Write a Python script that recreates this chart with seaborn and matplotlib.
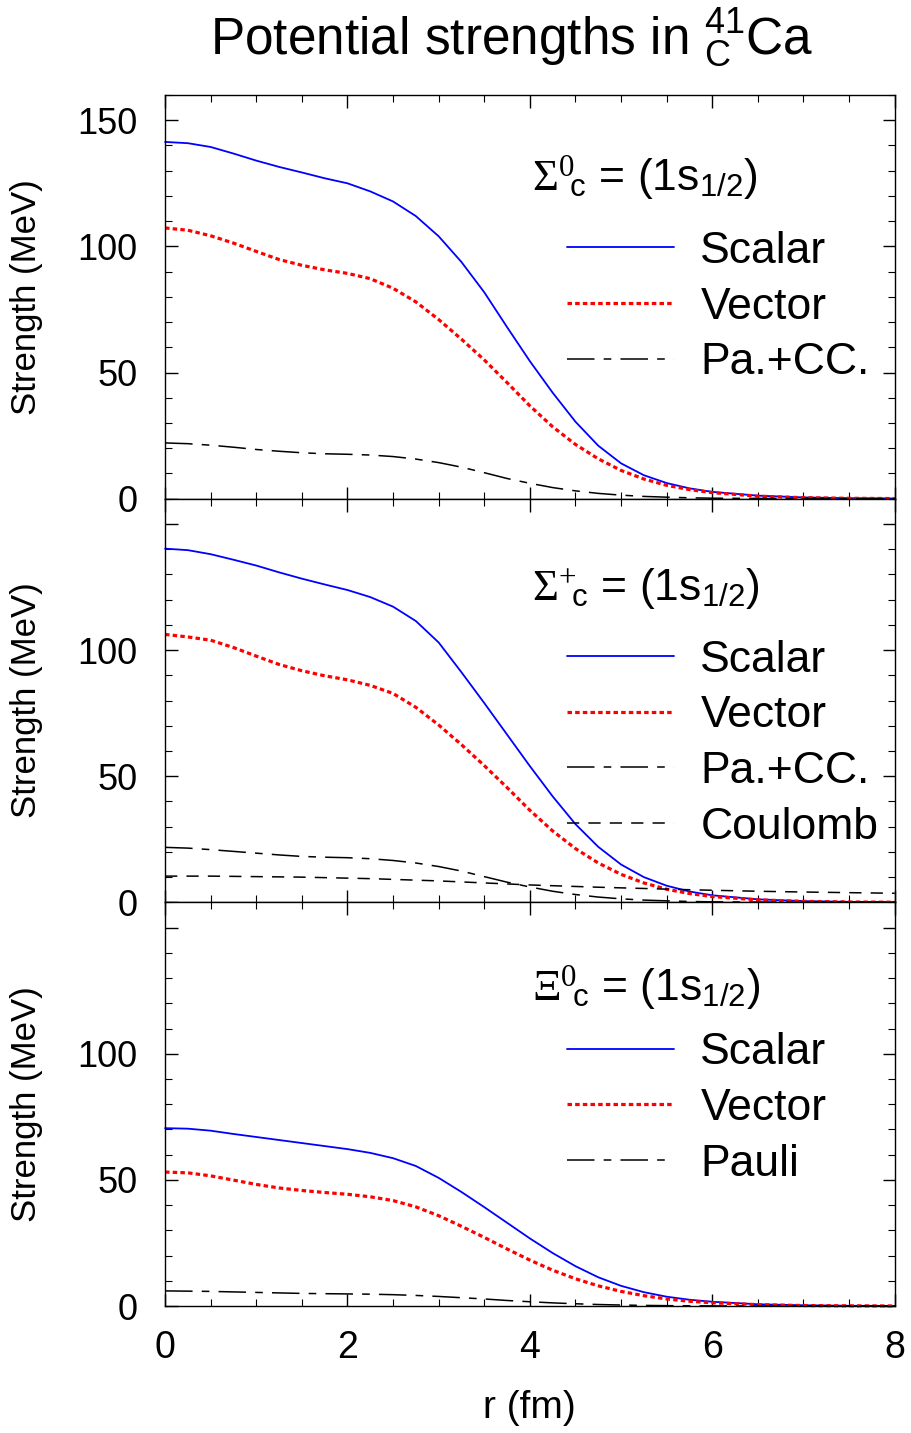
import matplotlib
matplotlib.use("Agg")
import matplotlib.pyplot as plt
from matplotlib.ticker import MultipleLocator
import seaborn as sns

# radial grid (fm)
r_fm = [0, 0.25, 0.5, 0.75, 1, 1.25, 1.5, 1.75, 2, 2.25, 2.5, 2.75, 3, 3.25, 3.5,
        3.75, 4, 4.25, 4.5, 4.75, 5, 5.25, 5.5, 5.75, 6, 6.5, 7, 7.5, 8]

# Sigma_c^0
sig0_scalar = [141.4, 140.9, 139.4, 136.8, 134.0, 131.5, 129.3, 127.0, 125.0, 121.8, 117.8,
               112.0, 104.0, 93.8, 81.8, 68.0, 54.5, 42.0, 30.5, 21.0, 14.0, 9.3, 6.2,
               4.1, 2.7, 1.2, 0.5, 0.2, 0.1]
sig0_vector = [107.3, 106.4, 104.2, 101.3, 98.0, 94.8, 92.5, 90.7, 89.3, 87.2, 83.4,
               78.0, 71.0, 63.2, 55.0, 46.0, 36.8, 28.5, 21.5, 15.8, 11.2, 7.8, 5.3,
               3.6, 2.4, 1.0, 0.4, 0.15, 0.05]
sig0_pacc = [22.1, 21.8, 21.2, 20.4, 19.5, 18.8, 18.2, 17.8, 17.6, 17.3, 16.7, 15.7,
             14.3, 12.5, 10.3, 8.0, 6.1, 4.4, 3.1, 2.1, 1.4, 0.9, 0.6, 0.35, 0.2,
             0.1, 0.03, 0.0, 0.0]

# Sigma_c^+
sigp_scalar = [140.2, 139.6, 138.0, 135.8, 133.5, 130.8, 128.3, 126.0, 123.8, 121.0, 117.2,
               111.5, 103.0, 91.2, 79.0, 66.5, 54.0, 42.0, 31.0, 22.0, 15.0, 10.0, 6.6,
               4.3, 2.8, 1.2, 0.5, 0.2, 0.1]
sigp_vector = [106.2, 105.2, 103.9, 101.0, 97.6, 94.3, 91.8, 89.8, 88.2, 86.0, 82.8,
               77.3, 70.3, 62.5, 54.2, 45.5, 36.5, 28.3, 21.3, 15.6, 11.1, 7.7, 5.2,
               3.5, 2.3, 1.0, 0.4, 0.15, 0.05]
sigp_pacc = [21.8, 21.5, 20.9, 20.2, 19.5, 18.8, 18.2, 17.9, 17.7, 17.3, 16.6, 15.6,
             14.2, 12.4, 10.2, 8.0, 6.1, 4.4, 3.1, 2.1, 1.4, 0.9, 0.6, 0.35, 0.2,
             0.1, 0.03, 0.0, 0.0]
sigp_coulomb = [10.4, 10.4, 10.4, 10.3, 10.2, 10.1, 10.0, 9.8, 9.6, 9.4, 9.1, 8.8,
                8.5, 8.1, 7.7, 7.3, 6.9, 6.6, 6.3, 6.0, 5.75, 5.5, 5.25, 5.0, 4.8,
                4.4, 4.1, 3.85, 3.6]

# Xi_c^0
xi0_scalar = [70.5, 70.3, 69.5, 68.2, 67.0, 65.8, 64.6, 63.4, 62.2, 60.7, 58.6, 55.5,
              50.8, 45.2, 39.2, 33.0, 26.8, 21.0, 15.8, 11.4, 8.0, 5.5, 3.7, 2.5, 1.7,
              0.7, 0.3, 0.1, 0.05]
xi0_vector = [53.1, 52.8, 51.6, 49.9, 48.2, 46.8, 45.8, 45.0, 44.3, 43.3, 41.8, 39.3,
              35.8, 31.6, 27.2, 22.6, 18.2, 14.2, 10.8, 8.0, 5.8, 4.1, 2.8, 1.9, 1.3,
              0.55, 0.2, 0.08, 0.03]
xi0_pauli = [6.0, 5.9, 5.8, 5.6, 5.4, 5.2, 5.0, 4.9, 4.8, 4.7, 4.5, 4.2, 3.8, 3.3,
             2.8, 2.2, 1.7, 1.25, 0.9, 0.6, 0.4, 0.25, 0.15, 0.1, 0.05, 0.02, 0.0,
             0.0, 0.0]

x_ticks = [0, 2, 4, 6, 8]
y_ticks = [0, 50, 100, 150]

sns.set_style("ticks")
plt.rcParams["font.family"] = ["Liberation Sans", "DejaVu Sans"]
plt.rcParams["mathtext.fontset"] = "custom"
plt.rcParams["mathtext.rm"] = "Liberation Serif"
plt.rcParams["mathtext.it"] = "Liberation Serif:italic"
plt.rcParams["mathtext.sf"] = "Liberation Sans"
for key in ["text.color", "axes.labelcolor", "xtick.color", "ytick.color", "axes.edgecolor"]:
    plt.rcParams[key] = "black"

styles = {
    "Scalar": dict(color="#0000ff", linewidth=1.3, linestyle="-"),
    "Vector": dict(color="#ff0000", linewidth=2.3, linestyle=(0, (1.4, 1.0))),
    "Pa.+CC.": dict(color="black", linewidth=1.1, linestyle=(0, (18, 6, 5, 6))),
    "Pauli": dict(color="black", linewidth=1.1, linestyle=(0, (18, 6, 5, 6))),
    "Coulomb": dict(color="black", linewidth=1.1, linestyle=(0, (8, 6))),
}

panels = [
    dict(header=r"$\Sigma^{0}\!{}_{\mathsf{c}}$ = (1s$_{\mathsf{1/2}}$)", head_y=0.764, leg_y=0.663,
         series=[("Scalar", sig0_scalar), ("Vector", sig0_vector), ("Pa.+CC.", sig0_pacc)]),
    dict(header=r"$\Sigma^{+}\!{}_{\mathsf{c}}$ = (1s$_{\mathsf{1/2}}$)", head_y=0.747, leg_y=0.651,
         series=[("Scalar", sigp_scalar), ("Vector", sigp_vector), ("Pa.+CC.", sigp_pacc),
                 ("Coulomb", sigp_coulomb)]),
    dict(header=r"$\Xi^{0}\!{}_{\mathsf{c}}$ = (1s$_{\mathsf{1/2}}$)", head_y=0.757, leg_y=0.678,
         series=[("Scalar", xi0_scalar), ("Vector", xi0_vector), ("Pauli", xi0_pauli)]),
]

fig, axes = plt.subplots(3, 1, figsize=(9.12, 14.33), dpi=100, sharex=True)
fig.subplots_adjust(left=0.181, right=0.981, bottom=0.0886, top=0.9337, hspace=0)

for i, (ax, p) in enumerate(zip(axes, panels)):
    handles = []
    for name, vals in p["series"]:
        sns.lineplot(x=r_fm, y=vals, ax=ax, clip_on=False, **styles[name])
        handles.append(ax.get_lines()[-1])
    ax.legend(handles, [n for n, _ in p["series"]], loc="upper left",
              bbox_to_anchor=(0.551, p["leg_y"]), frameon=False, fontsize=32,
              handlelength=2.4, handletextpad=0.6, labelspacing=0.33,
              borderpad=0, borderaxespad=0)
    ax.text(0.503, p["head_y"], p["header"], transform=ax.transAxes,
            fontsize=32, ha="left", va="baseline")

    ax.set_xlim(0, 8)
    ax.set_ylim(0, 160)
    ax.set_xticks(x_ticks)
    ax.xaxis.set_minor_locator(MultipleLocator(0.5))
    ax.yaxis.set_minor_locator(MultipleLocator(10))
    if i == 0:
        ax.set_yticks(y_ticks, [str(v) for v in y_ticks])
    else:
        ax.set_yticks(y_ticks, [str(v) for v in y_ticks[:-1]] + [""])
    ax.tick_params(which="both", direction="in", top=True, right=True, color="black")
    ax.tick_params(which="major", length=9, width=1.0)
    ax.tick_params(which="minor", length=4.7, width=0.8)
    ax.tick_params(axis="y", labelsize=26, pad=20)
    ax.tick_params(axis="x", labelsize=27, pad=17)
    for s in ax.spines.values():
        s.set_linewidth(1.0)
        s.set_color("black")
    ax.set_ylabel("Strength (MeV)", fontsize=25)
    ax.yaxis.set_label_coords(-0.167, 0.5)
    ax.set_xlabel("")

axes[2].set_xlabel("r (fm)", fontsize=28)
axes[2].xaxis.set_label_coords(0.5, -0.208)

fig.text(0.561, 0.9616, r"Potential strengths in $^{\mathsf{41}}_{\mathsf{C}}$Ca",
         fontsize=37, ha="center", va="baseline")

fig.savefig("out.png", dpi=100)
